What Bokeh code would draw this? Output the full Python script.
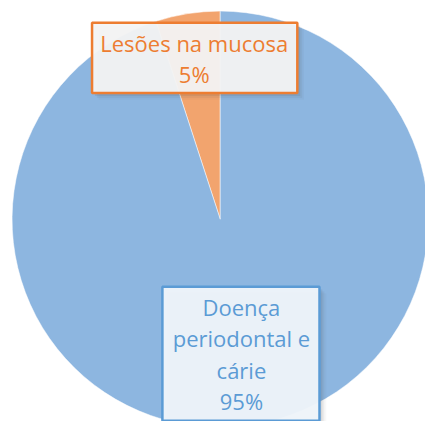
import numpy as np
from bokeh.plotting import figure
from bokeh.models import Range1d
from bokeh.core.properties import value
from bokeh.embed import file_html
from bokeh.resources import INLINE

# ---- data ----
categories = ["Lesões na mucosa", "Doença periodontal e cárie"]
values = [5, 95]
label_lines = [["Lesões na mucosa"], ["Doença", "periodontal e", "cárie"]]
slice_colors = ["#F2A46E", "#8DB6E0"]
text_colors = ["#ED7D31", "#5B9BD5"]

W, H = 425, 421
S = W / 441.0  # scale of reference layout into figure


def X(px):
    return px * S


def Y(py):
    return H - py * S


p = figure(width=W, height=H, output_backend="svg", toolbar_location=None,
           x_range=Range1d(0, W), y_range=Range1d(0, H), min_border=0,
           x_axis_location=None, y_axis_location=None)
p.grid.visible = False
p.outline_line_color = None
p.background_fill_color = "white"
p.border_fill_color = "white"

# pie geometry
cx, cy, r = X(228), Y(227), 216 * S
total = float(sum(values))
fr = np.array(values) / total
ends = np.cumsum(fr) * 2 * np.pi
starts = np.concatenate([[0], ends[:-1]])
p.wedge(x=cx, y=cy, radius=r, start_angle=np.pi / 2 + starts, end_angle=np.pi / 2 + ends,
        fill_color=slice_colors, line_color="white", line_alpha=0.5, line_width=1)

font = value("Open Sans")
fs = "22px"

# label boxes in reference px: (left, right, top, bottom)
boxes = [(95, 308, 23, 96), (168, 331, 297, 436)]
fills = ["#F4F4F4", "#F0F5FB"]
for i, (l, rr, t, b) in enumerate(boxes):
    for off, a in [(3, 0.10), (5, 0.07), (7, 0.04)]:
        p.quad(left=X(l + off), right=X(rr + off), top=Y(t + off), bottom=Y(b + off),
               fill_color="#404040", fill_alpha=a, line_color=None)
    p.quad(left=X(l), right=X(rr), top=Y(t), bottom=Y(b), fill_color=fills[i],
           fill_alpha=0.95, line_color=text_colors[i], line_width=2.5)

# label text (reference px)
centers = [(201, 44), (250, 318)]
spacing = 32.5
for i, cat in enumerate(categories):
    lines = label_lines[i] + ["%d%%" % round(fr[i] * 100)]
    x0, y0 = centers[i]
    xs = [X(x0)] * len(lines)
    ys = [Y(y0 + k * spacing) for k in range(len(lines))]
    p.text(x=xs, y=ys, text=lines, text_font=font, text_font_size=fs,
           text_color=text_colors[i], text_align="center", text_baseline="middle")

open("out.html", "w").write(file_html(p, INLINE))
